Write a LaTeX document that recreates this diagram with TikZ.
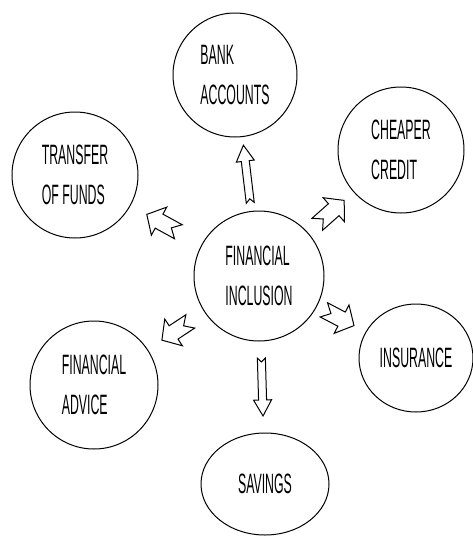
\documentclass[tikz,border=0pt]{standalone}
\usepackage{fontspec}
\setmainfont{Liberation Sans}
\usepackage{graphicx}
\usetikzlibrary{shapes.geometric}
\newcommand{\sqz}[1]{\scalebox{0.44}[1]{#1}}

\begin{document}
\begin{tikzpicture}[x=1pt, y=-1pt,
  bubble/.style={draw, line width=1pt, circle, minimum size=#1, inner sep=0pt,
    align=left, font=\fontsize{28}{40}\selectfont},
  oval/.style args={#1/#2}{draw, line width=1pt, ellipse, minimum width=#1,
    minimum height=#2, inner sep=0pt, align=left, font=\fontsize{28}{40}\selectfont},
  % notched block arrow: length / shaft half width / head half width / head length
  pics/notched/.style args={#1/#2/#3/#4}{code={
    \draw[line width=1pt, line join=miter, fill=white]
      (-#1/2,-#2) -- (#1/2-#4,-#2) -- (#1/2-#4,-#3) -- (#1/2,0)
      -- (#1/2-#4,#3) -- (#1/2-#4,#2) -- (-#1/2,#2) -- (-#1/2+#2,0) -- cycle;
  }},
  along/.style={pos=#1, sloped, allow upside down}]
\useasboundingbox (0,0) rectangle (472,538);

% centre
\node[bubble=130] (fi) at (259,276) {\sqz{FINANCIAL}\\\sqz{INCLUSION}};

% outer bubbles
\node[bubble=124] (bank) at (235,75) {\sqz{BANK}\\\sqz{ACCOUNTS}};
\node[bubble=126] (transfer) at (75,175) {\sqz{TRANSFER}\\\sqz{OF FUNDS}};
\node[bubble=126] (credit) at (401,150) {\sqz{CHEAPER}\\\sqz{CREDIT}};
\node[bubble=128] (advice) at (94,385) {\sqz{FINANCIAL}\\\sqz{ADVICE}};
\node[oval=114/108] (insurance) at (416,358) {\sqz{INSURANCE}};
\node[oval=128/102] (savings) at (265,484) {\sqz{SAVINGS}};

% arrows
\path (fi) -- (bank) pic[along=0.5] {notched=58/4/9/16};
\path (fi) -- (savings) pic[along=0.5] {notched=58/4/9/16};
\path (fi) -- (transfer) pic[along=0.55] {notched=36/8/16/14};
\path (fi) -- (credit) pic[along=0.5] {notched=36/8/16/14};
\path (fi) -- (advice) pic[along=0.5] {notched=34/8/16/14};
\path (fi) -- (insurance) pic[along=0.45] {notched=34/8/16/14};
\end{tikzpicture}
\end{document}
